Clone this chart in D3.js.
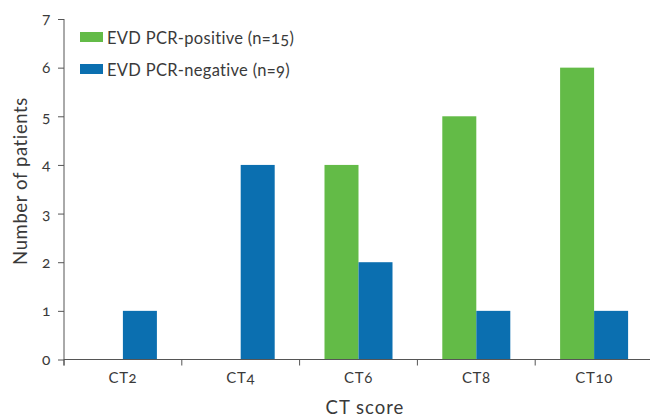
<!DOCTYPE html>
<html>
  <body style="margin:0">
    <style>
      body { font-family: Lato, "Open Sans", sans-serif; }
      text { fill: #3a3a3a; font-variant-numeric: oldstyle-nums; font-feature-settings: "onum"; letter-spacing: 0.6px; }
    </style>
    <script src="https://d3js.org/d3.v7.min.js"></script>
    <script type="text/javascript">
      const width = 650;
      const height = 417;

      const categories = ['CT2', 'CT4', 'CT6', 'CT8', 'CT10'];
      const positive = [0, 0, 4, 5, 6];
      const negative = [1, 4, 2, 1, 1];
      const seriesNames = ['EVD PCR-positive (n=15)', 'EVD PCR-negative (n=9)'];
      const yTicks = [0, 1, 2, 3, 4, 5, 6, 7];

      const colors = ['#63bb47', '#0b6fb0'];
      const axisColor = '#555';

      const mLeft = 64, mRight = 653, mTop = 19, mBottom = 359.5;

      const svg = d3.select('body')
        .append('svg')
        .attr('width', width)
        .attr('height', height)

      const x = d3.scaleBand()
        .domain(categories)
        .range([mLeft, mRight])

      const y = d3.scaleLinear()
        .domain([0, 7])
        .range([mBottom, mTop])

      const barW = 34;
      const rows = categories.map((c, i) => ({ c, vals: [positive[i], negative[i]] }));

      const groups = svg.append('g')
        .selectAll('g')
        .data(rows)
        .enter()
        .append('g')

      groups.selectAll('rect')
        .data((d) => d.vals.map((v, k) => ({ c: d.c, v, k })))
        .enter()
        .append('rect')
        .attr('x', (d) => x(d.c) + x.bandwidth() / 2 + (d.k - 1) * barW)
        .attr('width', barW)
        .attr('y', (d) => y(d.v))
        .attr('height', (d) => mBottom - y(d.v))
        .attr('fill', (d) => colors[d.k])

      // y axis
      const yAxis = svg.append('g')
        .attr('transform', `translate(${mLeft},0)`)
        .call(d3.axisLeft(y).tickValues(yTicks).tickFormat(d3.format('d'))
          .tickSize(6).tickSizeOuter(0).tickPadding(7))
      yAxis.select('.domain').remove()
      yAxis.selectAll('line').attr('stroke', axisColor)
      yAxis.selectAll('text').attr('font-size', 15.5).attr('font-family', 'Lato')
      svg.append('line')
        .attr('x1', mLeft).attr('x2', mLeft)
        .attr('y1', mTop).attr('y2', mBottom + 6)
        .attr('stroke', axisColor)

      // x axis
      const xAxis = svg.append('g')
        .attr('transform', `translate(0,${mBottom})`)
        .call(d3.axisBottom(x).tickSize(0).tickPadding(13))
      xAxis.select('.domain').remove()
      xAxis.selectAll('text').attr('font-size', 15).attr('font-family', 'Lato')
      svg.append('line')
        .attr('x1', mLeft).attr('x2', width)
        .attr('y1', mBottom).attr('y2', mBottom)
        .attr('stroke', axisColor)
      svg.append('g')
        .selectAll('line')
        .data(categories)
        .enter()
        .append('line')
        .attr('x1', (d) => x(d)).attr('x2', (d) => x(d))
        .attr('y1', mBottom).attr('y2', mBottom + 6)
        .attr('stroke', axisColor)

      // titles
      svg.append('text')
        .attr('x', 365)
        .attr('y', 414)
        .attr('text-anchor', 'middle')
        .attr('font-size', 18.5)
        .style('letter-spacing', '1px')
        .text('CT score')

      svg.append('text')
        .attr('transform', `translate(27,181) rotate(-90)`)
        .attr('text-anchor', 'middle')
        .attr('font-size', 18.5)
        .text('Number of patients')

      // legend
      const legend = svg.append('g')
        .selectAll('g')
        .data(seriesNames)
        .enter()
        .append('g')
        .attr('transform', (d, i) => `translate(80,${32 + i * 32})`)
      legend.append('rect')
        .attr('width', 23).attr('height', 10)
        .attr('fill', (d, i) => colors[i])
      legend.append('text')
        .attr('x', 27).attr('y', 12)
        .attr('font-size', 16.5)
        .style('letter-spacing', '0.3px')
        .text((d) => d)
    </script>
  </body>
</html>
